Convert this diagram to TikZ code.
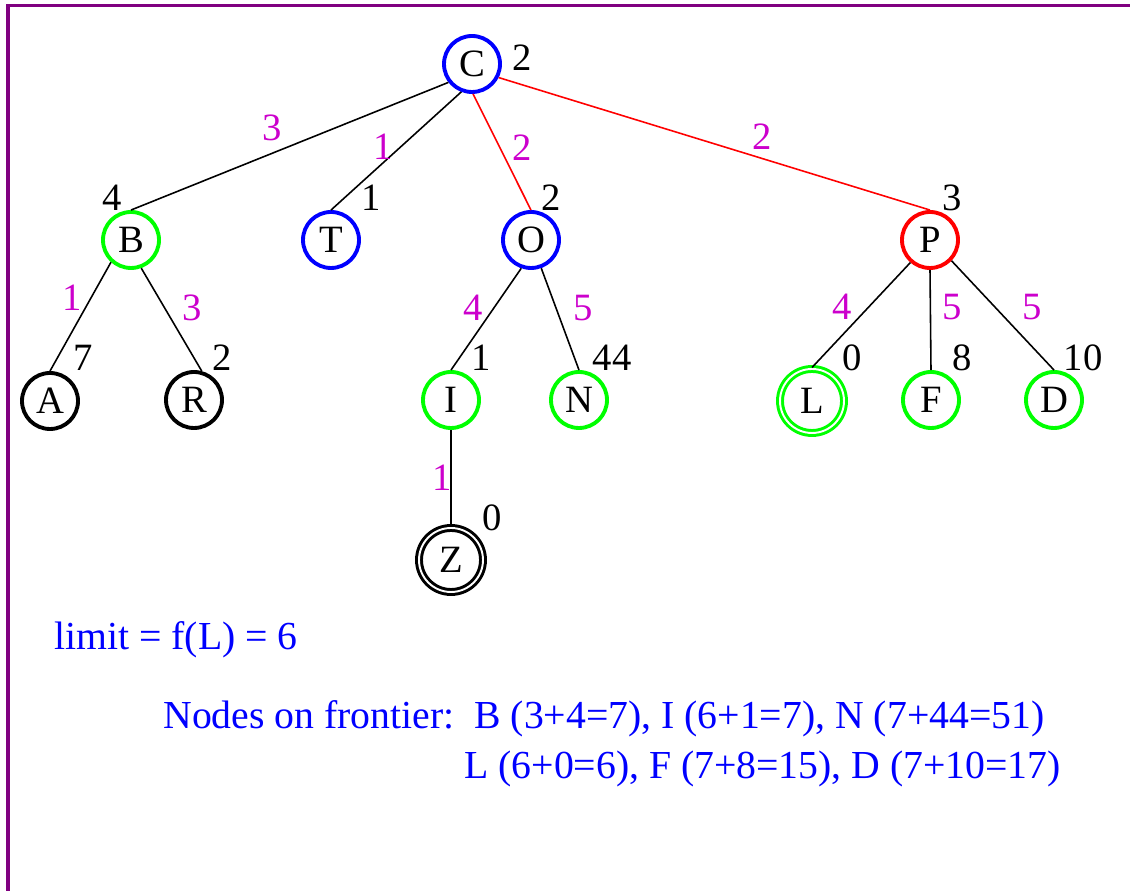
\documentclass[tikz,border=0pt]{standalone}
\usepackage{fontspec}
\setmainfont{Liberation Serif}
\usepackage{tikz}
\usepackage{xcolor}
\definecolor{framepurple}{RGB}{128,0,128}
\definecolor{wtmagenta}{RGB}{204,0,204}

\begin{document}
\begin{tikzpicture}[
  every node/.style={font=\fontsize{22}{26}\selectfont},
  st/.style={circle, draw, line width=2.2pt, minimum size=1.12cm, inner sep=0pt},
  goal/.style={circle, draw, double, line width=1.7pt, double distance=1.1pt, minimum size=1.28cm, inner sep=0pt},
  wt/.style={text=wtmagenta, inner sep=0pt},
  hv/.style={inner sep=0pt},
  link/.style={line width=0.9pt},
  note/.style={text=blue, inner sep=0pt, anchor=base west, font=\fontsize{22.6}{27}\selectfont}
]
\useasboundingbox (0,0) rectangle (22.6,17.82);
\draw[framepurple, line width=2pt] (0.16,0) -- (0.16,17.71) -- (22.6,17.71);

% states
\node[st, blue] (C) at (9.44,16.54) {\textcolor{black}{C}};
\node[st, green] (B) at (2.62,13.02) {\textcolor{black}{B}};
\node[st, blue] (T) at (6.62,13.02) {\textcolor{black}{T}};
\node[st, blue] (O) at (10.62,13.02) {\textcolor{black}{O}};
\node[st, red] (P) at (18.60,13.02) {\textcolor{black}{P}};
\node[st] (A) at (1.00,9.80) {A};
\node[st] (R) at (3.88,9.82) {R};
\node[st, green] (I) at (9.02,9.82) {\textcolor{black}{I}};
\node[st, green] (N) at (11.58,9.82) {\textcolor{black}{N}};
\node[goal, green] (L) at (16.24,9.80) {\textcolor{black}{L}};
\node[st, green] (F) at (18.62,9.82) {\textcolor{black}{F}};
\node[st, green] (D) at (21.08,9.82) {\textcolor{black}{D}};
\node[goal] (Z) at (9.02,6.62) {Z};

% links
\draw[link] (C.218) -- (B.north);
\draw[link] (C.249) -- (T.north);
\draw[link, red] (C.272) -- (O.north);
\draw[link, red] (C.333) -- (P.north);
\draw[link] (B.228) -- (A.north);
\draw[link] (B.290) -- (R.75);
\draw[link] (O.251) -- (I.north);
\draw[link] (O.290) -- (N.north);
\draw[link] (I.south) -- (Z.north);
\draw[link] (P.229) -- (L.north);
\draw[link] (P.south) -- (F.north);
\draw[link] (P.316) -- (D.north);

% step costs
\node[wt] (wCB) at (5.44,15.26) {3};
\node[wt] (wCT) at (7.66,14.88) {1};
\node[wt] (wCO) at (10.44,14.86) {2};
\node[wt] (wCP) at (15.24,15.08) {2};
\node[wt] (wBA) at (1.44,11.86) {1};
\node[wt] (wBR) at (3.84,11.66) {3};
\node[wt] (wOI) at (9.46,11.66) {4};
\node[wt] (wON) at (11.66,11.66) {5};
\node[wt] (wIZ) at (8.84,8.26) {1};
\node[wt] (wPL) at (16.84,11.68) {4};
\node[wt] (wPF) at (19.04,11.68) {5};
\node[wt] (wPD) at (20.64,11.68) {5};

% heuristic values
\node[hv] (hC) at (10.44,16.66) {2};
\node[hv] (hB) at (2.24,13.86) {4};
\node[hv] (hT) at (7.42,13.86) {1};
\node[hv] (hO) at (11.02,13.86) {2};
\node[hv] (hP) at (19.04,13.86) {3};
\node[hv] (hA) at (1.66,10.66) {7};
\node[hv] (hR) at (4.44,10.66) {2};
\node[hv] (hI) at (9.62,10.66) {1};
\node[hv] (hN) at (12.24,10.66) {44};
\node[hv] (hZ) at (9.84,7.46) {0};
\node[hv] (hL) at (17.04,10.66) {0};
\node[hv] (hF) at (19.24,10.66) {8};
\node[hv] (hD) at (21.66,10.66) {10};

% notes
\node[note] (limit) at (1.08,4.82) {limit = f(L) = 6};
\node[note] (front1) at (3.26,3.24) {Nodes on frontier:\ \ B (3+4=7), I (6+1=7), N (7+44=51)};
\node[note] (front2) at (9.28,2.24) {L (6+0=6), F (7+8=15), D (7+10=17)};

\end{tikzpicture}
\end{document}
